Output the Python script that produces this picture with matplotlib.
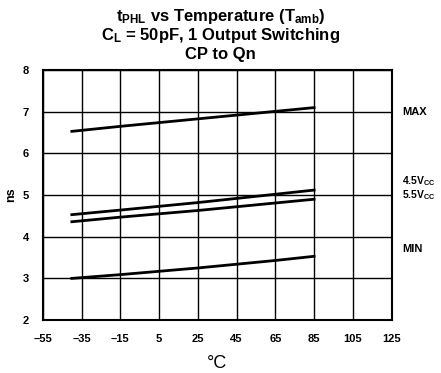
import matplotlib.pyplot as plt

plt.rcParams['font.family'] = ['Liberation Sans', 'DejaVu Sans']
plt.rcParams['mathtext.fontset'] = 'custom'
plt.rcParams['mathtext.rm'] = 'Liberation Sans:bold'
plt.rcParams['mathtext.bf'] = 'Liberation Sans:bold'
plt.rcParams['mathtext.it'] = 'Liberation Sans:bold'

temp = [-40, -15, 5, 25, 45, 65, 85]
t_max = [6.53, 6.65, 6.74, 6.83, 6.92, 7.01, 7.10]
t_45v = [4.53, 4.64, 4.73, 4.82, 4.92, 5.02, 5.12]
t_55v = [4.36, 4.47, 4.55, 4.63, 4.72, 4.81, 4.90]
t_min = [3.00, 3.09, 3.17, 3.25, 3.34, 3.43, 3.53]

xticks = [-55, -35, -15, 5, 25, 45, 65, 85, 105, 125]
xtick_labels = ['–55', '–35', '–15', '5', '25', '45', '65', '85', '105', '125']
yticks = [2, 3, 4, 5, 6, 7, 8]

fig = plt.figure(figsize=(4.41, 3.73), dpi=100)
ax = fig.add_axes([0.097, 0.142, 0.791, 0.670])

for series in [t_max, t_45v, t_55v, t_min]:
    ax.plot(temp, series, color='black', linewidth=2)

ax.set_xlim(-55, 125)
ax.set_ylim(2, 8)
ax.set_xticks(xticks)
ax.set_xticklabels(xtick_labels, fontsize=8, fontweight='bold')
ax.set_yticks(yticks)
ax.set_yticklabels([str(v) for v in yticks], fontsize=8, fontweight='bold')
ax.tick_params(length=0, pad=10)
ax.grid(True, color='black', linewidth=1)
for s in ax.spines.values():
    s.set_linewidth(1.5)

ax.set_xlabel('°C', fontsize=13, labelpad=8)
ax.set_ylabel('ns', fontsize=9, fontweight='bold', labelpad=4)

# right side labels
tr = ax.get_yaxis_transform()
ax.text(1.03, 7.0, 'MAX', transform=tr, fontsize=8, fontweight='bold', va='center')
ax.text(1.03, 5.33, '4.5V$_{CC}$', transform=tr, fontsize=7.5,
        fontweight='bold', va='center')
ax.text(1.03, 5.0, '5.5V$_{CC}$', transform=tr, fontsize=7.5,
        fontweight='bold', va='center')
ax.text(1.03, 3.7, 'MIN', transform=tr, fontsize=8, fontweight='bold', va='center')

fig.text(0.5, 0.955, 't$_{PHL}$ vs Temperature (T$_{amb}$)',
         ha='center', va='center', fontsize=12, fontweight='bold')
fig.text(0.5, 0.905, 'C$_{L}$ = 50pF, 1 Output Switching',
         ha='center', va='center', fontsize=12, fontweight='bold')
fig.text(0.5, 0.855, 'CP to Qn', ha='center', va='center', fontsize=12,
         fontweight='bold')

fig.savefig('out.png', dpi=100)
